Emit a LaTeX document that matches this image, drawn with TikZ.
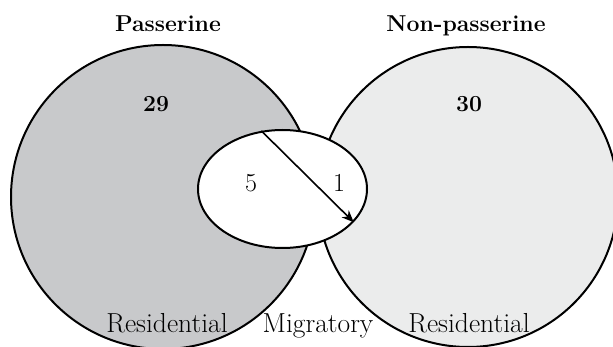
\documentclass[tikz,border=0pt]{standalone}
\usepackage{xcolor}
\usepackage{tikz}
\usetikzlibrary{arrows.meta,shapes.geometric}

\definecolor{passfill}{RGB}{200,201,203}
\definecolor{nonpassfill}{RGB}{235,236,236}

\begin{document}
\begin{tikzpicture}[
  x=1pt, y=-1pt,
  set/.style={circle, draw, line width=2pt, inner sep=0pt, minimum size=#1},
  migset/.style={ellipse, draw, line width=2pt, fill=white, inner sep=0pt, minimum width=169pt, minimum height=118pt},
  title/.style={anchor=base, font=\fontsize{23}{27}\selectfont\bfseries},
  count/.style={anchor=base, font=\fontsize{23}{27}\selectfont\bfseries},
  num/.style={anchor=base, font=\fontsize{26}{30}\selectfont},
  lab/.style={anchor=base, font=\fontsize{27.5}{32}\selectfont},
  arr/.style={-{Stealth[length=12pt, width=10pt]}, line width=1.6pt}
]
  \useasboundingbox (0,0) rectangle (613,347);

  \node[set=304pt, fill=passfill] (pass) at (163,197) {};
  \node[set=300pt, fill=nonpassfill] (nonpass) at (468,197) {};
  \node[migset] (mig) at (282.5,189) {};

  \node[title] (passname) at (168,32) {Passerine};
  \node[title] (nonpassname) at (466,32) {Non-passerine};
  \node[count] (passnum) at (156,112) {29};
  \node[count] (nonpassnum) at (469,112) {30};

  \node[num] (five) at (251,192) {5};
  \node[num] (one) at (339,192) {1};
  \draw[arr] (mig.110) -- (mig.-25);

  \node[lab] (passres) at (167,333) {Residential};
  \node[lab] (migr) at (318,333) {Migratory};
  \node[lab] (nonpassres) at (469,333) {Residential};
\end{tikzpicture}
\end{document}
